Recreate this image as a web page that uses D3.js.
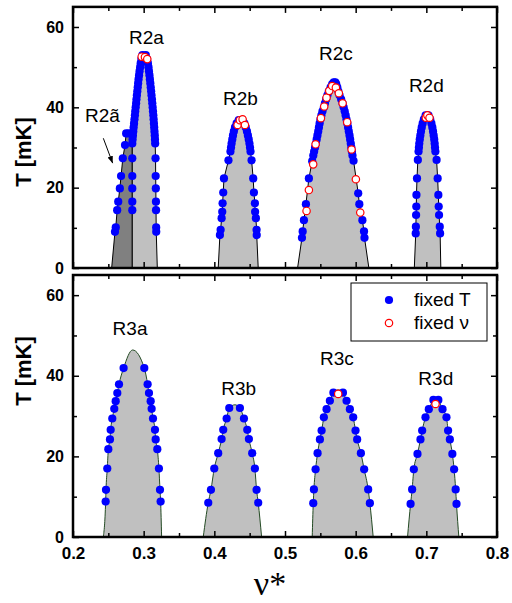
<!DOCTYPE html>
<html><head><meta charset="utf-8">
<script src="https://cdn.jsdelivr.net/npm/d3@7"></script>
<style>body{margin:0;background:#fff}svg{display:block}</style>
</head><body>
<svg id="c" width="512" height="603"></svg>
<script>
// ---------- data: [nu*, T(mK)] ----------
const xTicksMajor = [0.2,0.3,0.4,0.5,0.6,0.7,0.8];
const xTicksMinor = [0.25,0.35,0.45,0.55,0.65,0.75];
const yTicksMajor = [0,20,40,60];
const yTicksMinor = [10,30,50];

// R2ã (dark region) outline and fixed-T points
const r2tildeOutline = [[0.2547,0],[0.2594,9.0],[0.2605,10.1],[0.2625,14.4],[0.2640,16.5],[0.2663,19.8],[0.2680,22.9],[0.2705,27.3],[0.2736,30.6],[0.2752,33.5],[0.2800,34.2],[0.2839,31.0],[0.2839,0]];
const r2tildeFixedT = [[0.2594,9.0],[0.2605,10.1],[0.2625,14.4],[0.2640,16.5],[0.2663,19.8],[0.2680,22.9],[0.2705,27.3],[0.2736,30.6],[0.2752,33.5],[0.2788,33.5]];

// Top panel domes
const r2aBase = [0.2839,0.3193];
const r2aPeak = [0.3003,53.7];
const r2aLeft = [[0.2839,14.4],[0.2839,16.5],[0.2839,19.8],[0.2839,22.9],[0.2839,27.3],[0.2839,31],[0.2843,32],[0.2848,33],[0.2853,34],[0.2858,35],[0.2864,36],[0.2870,37],[0.2876,38],[0.2881,39],[0.2887,40],[0.2893,41],[0.2898,42],[0.2904,43],[0.2910,44],[0.2916,45],[0.2922,46],[0.2928,47],[0.2935,48],[0.2942,49],[0.2950,50],[0.2958,51],[0.2968,52],[0.2982,53]];
const r2aRight = [[0.3030,53],[0.3048,52],[0.3060,51],[0.3068,50],[0.3075,49],[0.3082,48],[0.3088,47],[0.3094,46],[0.3100,45],[0.3106,44],[0.3111,43],[0.3117,42],[0.3122,41],[0.3127,40],[0.3132,39],[0.3137,38],[0.3141,37],[0.3145,36],[0.3149,35],[0.3153,34],[0.3157,33],[0.3160,32],[0.3163,31],[0.3168,27.3],[0.3170,22.9],[0.3172,19.8],[0.3174,16.5],[0.3175,14.4],[0.3177,10.1],[0.3178,9.0]];
const r2aFixedNu = [[0.2972,52.6],[0.3018,52.5],[0.3051,52.0]];

const r2bBase = [0.4055,0.4621];
const r2bPeak = [0.4370,37.3];
const r2bLeft = [[0.4079,8.2],[0.4089,9.5],[0.4103,12.4],[0.4112,14.0],[0.4117,16.1],[0.4126,18.8],[0.4136,22.3],[0.4200,26.8],[0.4228,29],[0.4236,30],[0.4244,31],[0.4254,32],[0.4264,33],[0.4276,34],[0.4292,35],[0.4315,36],[0.4345,36.8]];
const r2bRight = [[0.4395,36.8],[0.4425,36],[0.4445,35],[0.4462,34],[0.4475,33],[0.4487,32],[0.4497,31],[0.4505,30],[0.4512,29],[0.4527,26.8],[0.4550,22.3],[0.4560,18.8],[0.4574,16.1],[0.4577,14.0],[0.4588,12.4],[0.4598,9.5],[0.4600,8.2]];
const r2bFixedNu = [[0.4329,35.6],[0.4362,36.8],[0.4400,37.0],[0.4433,35.6]];

const r2cBase = [0.5178,0.6187];
const r2cPeak = [0.5700,46.4];
const r2cLeft = [[0.5240,7.5],[0.5250,9.1],[0.5268,11.9],[0.5296,15.9],[0.5338,22.3],[0.5385,26.6],[0.5400,28],[0.5412,29],[0.5425,30],[0.5437,31],[0.5448,32],[0.5459,33],[0.5470,34],[0.5480,35],[0.5490,36],[0.5502,37],[0.5515,38],[0.5530,39],[0.5550,40],[0.5565,41],[0.5582,42],[0.5600,43],[0.5620,44],[0.5645,45],[0.5668,45.8],[0.5690,46.2]];
const r2cRight = [[0.5712,46.2],[0.5725,45.8],[0.5740,45],[0.5755,44],[0.5772,43],[0.5795,42],[0.5815,41],[0.5830,40],[0.5845,39],[0.5858,38],[0.5870,37],[0.5882,36],[0.5893,35],[0.5903,34],[0.5913,33],[0.5922,32],[0.5931,31],[0.5939,30],[0.5947,29],[0.5955,28],[0.5970,26.7],[0.6036,18.6],[0.6052,15.9],[0.6095,11.9],[0.6118,9.1],[0.6125,7.5]];
const r2cFixedNu = [[0.5305,14.2],[0.5338,19.4],[0.5399,25.8],[0.5433,30.8],[0.5508,37.3],[0.5555,40.2],[0.5588,42.4],[0.5626,44.1],[0.5668,45.3],[0.5720,44.9],[0.5762,43.5],[0.5815,41.0],[0.5880,36.3],[0.5942,29.5],[0.6003,22.1],[0.6065,13.8]];

const r2dBase = [0.6830,0.7205];
const r2dPeak = [0.7010,38.4];
const r2dLeft = [[0.6850,8.6],[0.6852,10.3],[0.6855,13.2],[0.6858,15.3],[0.6860,18.2],[0.6868,22.3],[0.6880,26.9],[0.6890,29],[0.6895,30],[0.6900,31],[0.6907,32],[0.6915,33],[0.6924,34],[0.6935,35],[0.6948,36],[0.6965,37],[0.6990,38]];
const r2dRight = [[0.7030,38],[0.7055,37],[0.7072,36],[0.7085,35],[0.7095,34],[0.7104,33],[0.7112,32],[0.7118,31],[0.7123,30],[0.7128,29],[0.7145,26.9],[0.7160,22.3],[0.7170,18.2],[0.7175,15.3],[0.7180,13.2],[0.7190,10.3],[0.7195,8.6]];
const r2dFixedNu = [[0.6993,37.4],[0.7015,38.0],[0.7045,37.4]];

// Bottom panel domes
const r3aBase = [0.2429,0.3254];
const r3aPeak = [0.2844,46.4];
const r3aLeft = [[0.2462,8.8],[0.2467,11.7],[0.2485,17.0],[0.2500,21.8],[0.2523,24.2],[0.2533,26.6],[0.2556,29.4],[0.2584,31.8],[0.2604,33.7],[0.2627,35.7],[0.2651,37.9],[0.2716,41.9]];
const r3aRight = [[0.3009,41.9],[0.3056,37.9],[0.3075,35.7],[0.3099,33.7],[0.3113,31.8],[0.3132,29.4],[0.3160,26.6],[0.3170,24.2],[0.3193,21.8],[0.3216,17.0],[0.3231,11.7],[0.3240,8.8]];
const r3aFixedNu = [];

const r3bBase = [0.3843,0.4669];
const r3bPeak = [0.4291,32.8];
const r3bLeft = [[0.3914,8.5],[0.3952,11.7],[0.3999,17.0],[0.4055,20.8],[0.4103,24.3],[0.4126,26.6],[0.4174,29.4],[0.4211,32.0]];
const r3bRight = [[0.4362,32.0],[0.4419,29.4],[0.4466,26.6],[0.4489,24.3],[0.4536,20.8],[0.4574,17.0],[0.4598,11.7],[0.4621,8.5]];
const r3bFixedNu = [];

const r3cBase = [0.5385,0.6248];
const r3cPeak = [0.5753,36.5];
const r3cLeft = [[0.5400,8.4],[0.5409,11.8],[0.5433,16.8],[0.5461,20.8],[0.5494,24.2],[0.5518,26.4],[0.5550,29.7],[0.5588,31.7],[0.5635,33.8],[0.5685,35.8]];
const r3cRight = [[0.5820,35.8],[0.5871,33.8],[0.5918,31.7],[0.5965,29.7],[0.5998,26.4],[0.6021,24.2],[0.6074,20.8],[0.6120,16.8],[0.6177,11.8],[0.6201,8.4]];
const r3cFixedNu = [[0.5753,35.5]];

const r3dBase = [0.6734,0.7460];
const r3dPeak = [0.7134,34.7];
const r3dLeft = [[0.6777,8.2],[0.6799,11.8],[0.6823,16.8],[0.6875,20.6],[0.6917,24.2],[0.6941,26.4],[0.6988,29.7],[0.7035,31.7],[0.7100,34.0]];
const r3dRight = [[0.7170,34.0],[0.7229,31.7],[0.7285,29.7],[0.7308,26.4],[0.7333,24.2],[0.7368,20.6],[0.7393,16.8],[0.7415,11.8],[0.7427,8.2]];
const r3dFixedNu = [[0.7130,33.0]];

// labels [text, nu*, T of baseline]
const topLabels = [["R2a",0.3040,55.8],["R2b",0.4369,40.6],["R2c",0.5720,51.8],["R2d",0.7000,43.8],["R2ã",0.2417,36.4]];
const botLabels = [["R3a",0.2807,50.1],["R3b",0.4345,35.2],["R3c",0.5734,42.7],["R3d",0.7134,37.7]];
const arrowR2tilde = [[0.2429,32.3],[0.2561,26.1]];

// ---------- drawing ----------
const svg = d3.select('#c');
const x = d3.scaleLinear().domain([0.2,0.8]).range([73,497]);
const yT = d3.scaleLinear().domain([0,65]).range([268,6.9]);
const yB = d3.scaleLinear().domain([0,65]).range([537,275]);
const FONT = '"Liberation Sans", Arial, sans-serif';
const R = 4.1;

svg.append('defs').append('marker').attr('id','ah').attr('viewBox','0 0 10 10')
  .attr('refX',10).attr('refY',5).attr('markerWidth',7).attr('markerHeight',7)
  .attr('orient','auto').attr('markerUnits','userSpaceOnUse')
  .append('path').attr('d','M0,1 L10,5 L0,9 Z').attr('fill','#000');

function dome(g, y, base, left, peak, right, fixedNu, curve, stroke) {
  const pts = [[base[0],0], ...left, peak, ...right, [base[1],0]];
  const line = d3.line().x(p=>x(p[0])).y(p=>y(p[1])).curve(curve);
  g.append('path').attr('d', line(pts)+'Z').attr('fill','#c0c0c0')
    .attr('stroke',stroke).attr('stroke-width',1);
  return {dots: left.concat(right), nu: fixedNu};
}

function drawDots(g, y, pts) {
  g.selectAll(null).data(pts).enter().append('circle')
    .attr('cx',p=>x(p[0])).attr('cy',p=>y(p[1])).attr('r',R).attr('fill','#0000ff');
}
function drawNu(g, y, pts) {
  g.selectAll(null).data(pts).enter().append('circle')
    .attr('cx',p=>x(p[0])).attr('cy',p=>y(p[1])).attr('r',3.7)
    .attr('fill','#fff').attr('stroke','#ff0000').attr('stroke-width',1.2);
}

function axes(y, showX) {
  const g = svg.append('g').attr('font-family',FONT);
  const y0 = y(0), y1 = y(65);
  const style = sel => { sel.select('.domain').remove(); sel.selectAll('line').attr('stroke','#000').attr('stroke-width',1.5); };
  g.append('g').attr('transform',`translate(0,${y0})`)
    .call(d3.axisBottom(x).tickValues(xTicksMajor).tickSize(-6).tickPadding(10).tickFormat(showX? d3.format('.1f') : ''))
    .call(style).selectAll('text').attr('font-size',17).attr('font-weight','bold').attr('fill','#000').attr('font-family',FONT);
  g.append('g').attr('transform',`translate(0,${y0})`)
    .call(d3.axisBottom(x).tickValues(xTicksMinor).tickSize(-4).tickFormat('')).call(style);
  g.append('g').attr('transform',`translate(0,${y1})`)
    .call(d3.axisTop(x).tickValues(xTicksMajor).tickSize(-6).tickFormat('')).call(style);
  g.append('g').attr('transform',`translate(0,${y1})`)
    .call(d3.axisTop(x).tickValues(xTicksMinor).tickSize(-4).tickFormat('')).call(style);
  g.append('g').attr('transform',`translate(${x(0.2)},0)`)
    .call(d3.axisLeft(y).tickValues(yTicksMajor).tickSize(-6).tickPadding(9).tickFormat(d3.format('d')))
    .call(style).selectAll('text').attr('font-size',16).attr('font-weight','bold').attr('fill','#000').attr('font-family',FONT);
  g.append('g').attr('transform',`translate(${x(0.2)},0)`)
    .call(d3.axisLeft(y).tickValues(yTicksMinor).tickSize(-4).tickFormat('')).call(style);
  g.append('g').attr('transform',`translate(${x(0.8)},0)`)
    .call(d3.axisRight(y).tickValues(yTicksMajor).tickSize(-6).tickFormat('')).call(style);
  g.append('g').attr('transform',`translate(${x(0.8)},0)`)
    .call(d3.axisRight(y).tickValues(yTicksMinor).tickSize(-4).tickFormat('')).call(style);
  g.append('rect').attr('x',x(0.2)).attr('y',y1).attr('width',x(0.8)-x(0.2)).attr('height',y0-y1)
    .attr('fill','none').attr('stroke','#000').attr('stroke-width',2.5);
}

// ---- top panel ----
const gt = svg.append('g');
const lineLin = d3.line().x(p=>x(p[0])).y(p=>yT(p[1]));
gt.append('path').attr('d', lineLin(r2tildeOutline)+'Z').attr('fill','#808080').attr('stroke','#000').attr('stroke-width',1);
const topDomes = [
  dome(gt, yT, r2aBase, r2aLeft, r2aPeak, r2aRight, r2aFixedNu, d3.curveLinear, '#000'),
  dome(gt, yT, r2bBase, r2bLeft, r2bPeak, r2bRight, r2bFixedNu, d3.curveLinear, '#000'),
  dome(gt, yT, r2cBase, r2cLeft, r2cPeak, r2cRight, r2cFixedNu, d3.curveLinear, '#000'),
  dome(gt, yT, r2dBase, r2dLeft, r2dPeak, r2dRight, r2dFixedNu, d3.curveLinear, '#000')
];
drawDots(gt, yT, r2tildeFixedT);
topDomes.forEach(d => drawDots(gt, yT, d.dots));
topDomes.forEach(d => drawNu(gt, yT, d.nu));
gt.selectAll(null).data(topLabels).enter().append('text')
  .attr('x',d=>x(d[1])).attr('y',d=>yT(d[2])).attr('text-anchor','middle')
  .attr('font-family',FONT).attr('font-size',19).attr('fill','#000').text(d=>d[0]);
gt.append('line').attr('x1',x(arrowR2tilde[0][0])).attr('y1',yT(arrowR2tilde[0][1]))
  .attr('x2',x(arrowR2tilde[1][0])).attr('y2',yT(arrowR2tilde[1][1]))
  .attr('stroke','#000').attr('stroke-width',1).attr('marker-end','url(#ah)');

// ---- bottom panel ----
const gb = svg.append('g');
const botDomes = [
  dome(gb, yB, r3aBase, r3aLeft, r3aPeak, r3aRight, r3aFixedNu, d3.curveMonotoneX, '#234a23'),
  dome(gb, yB, r3bBase, r3bLeft, r3bPeak, r3bRight, r3bFixedNu, d3.curveMonotoneX, '#234a23'),
  dome(gb, yB, r3cBase, r3cLeft, r3cPeak, r3cRight, r3cFixedNu, d3.curveMonotoneX, '#234a23'),
  dome(gb, yB, r3dBase, r3dLeft, r3dPeak, r3dRight, r3dFixedNu, d3.curveMonotoneX, '#234a23')
];
botDomes.forEach(d => drawDots(gb, yB, d.dots));
botDomes.forEach(d => drawNu(gb, yB, d.nu));
gb.selectAll(null).data(botLabels).enter().append('text')
  .attr('x',d=>x(d[1])).attr('y',d=>yB(d[2])).attr('text-anchor','middle')
  .attr('font-family',FONT).attr('font-size',19).attr('fill','#000').text(d=>d[0]);

axes(yT, false);
axes(yB, true);

// legend
const lg = svg.append('g').attr('font-family',FONT);
lg.append('rect').attr('x',351).attr('y',283).attr('width',136).attr('height',58)
  .attr('fill','#fff').attr('stroke','#000').attr('stroke-width',1);
lg.append('circle').attr('cx',389).attr('cy',300).attr('r',R).attr('fill','#0000ff');
lg.append('circle').attr('cx',389).attr('cy',323).attr('r',3.7).attr('fill','#fff').attr('stroke','#ff0000').attr('stroke-width',1.2);
lg.append('text').attr('x',414).attr('y',306).attr('font-size',19).text('fixed T');
lg.append('text').attr('x',414).attr('y',329).attr('font-size',19).text('fixed ν');

// axis titles
svg.append('text').attr('transform','translate(31,152) rotate(-90)').attr('text-anchor','middle')
  .attr('font-family',FONT).attr('font-weight','bold').attr('font-size',22).text('T [mK]');
svg.append('text').attr('transform','translate(31,371) rotate(-90)').attr('text-anchor','middle')
  .attr('font-family',FONT).attr('font-weight','bold').attr('font-size',22).text('T [mK]');
svg.append('text').attr('x',270).attr('y',595).attr('text-anchor','middle')
  .attr('font-family','"Liberation Serif", "Times New Roman", serif').attr('font-size',34).text('ν*');
</script>
</body></html>
